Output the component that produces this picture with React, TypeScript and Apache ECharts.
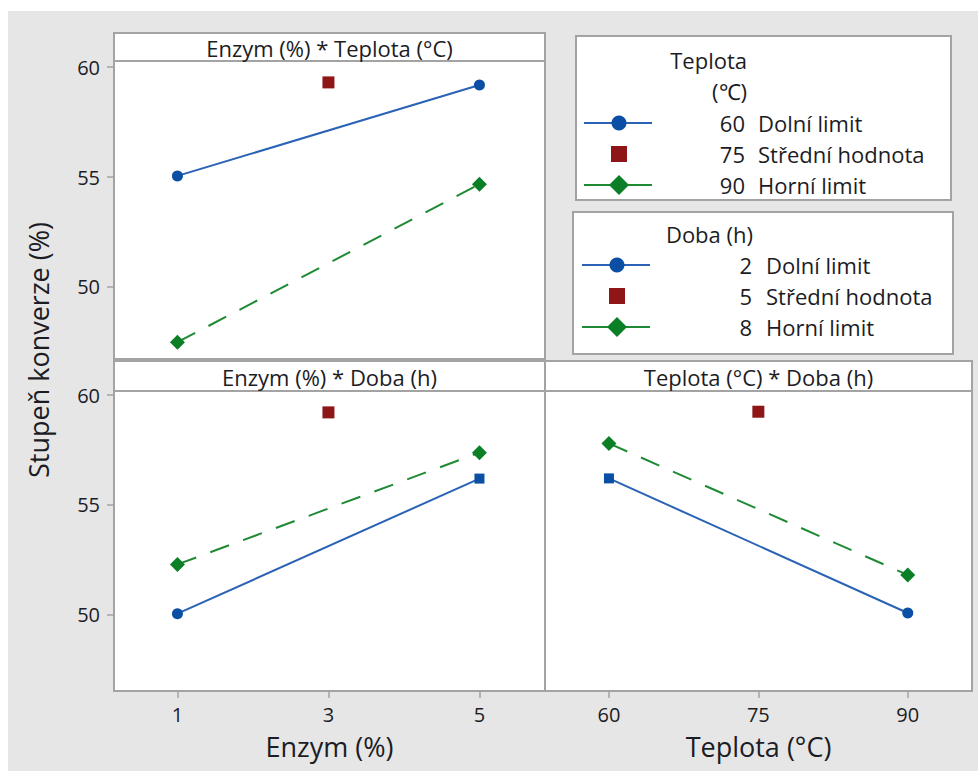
import React, { useEffect, useRef } from "react";
import * as echarts from "echarts";

// ---- data ----
const enzymTicks = [1, 3, 5];
const teplotaTicks = [60, 75, 90];
const yTicks = [50, 55, 60];

// Panel 1: Enzym (%) * Teplota (°C)
const et60: number[][] = [[1, 55.05], [5, 59.18]];
const et75: number[][] = [[3, 59.3]];
const et90: number[][] = [[1, 47.49], [5, 54.67]];
// Panel 2: Enzym (%) * Doba (h)
const ed2: number[][] = [[1, 50.06], [5, 56.2]];
const ed5: number[][] = [[3, 59.21]];
const ed8: number[][] = [[1, 52.3], [5, 57.38]];
// Panel 3: Teplota (°C) * Doba (h)
const td2: number[][] = [[60, 56.21], [90, 50.09]];
const td5: number[][] = [[75, 59.24]];
const td8: number[][] = [[60, 57.8], [90, 51.82]];

const panelTitles = ["Enzym (%) * Teplota (°C)", "Enzym (%) * Doba (h)", "Teplota (°C) * Doba (h)"];
const yTitle = "Stupeň konverze (%)";
const xTitles = ["Enzym (%)", "Teplota (°C)"];
const legendTitles1 = ["Teplota", "(℃)"];
const legendTitle2 = "Doba (h)";
const legendTeplotaValues = ["60", "75", "90"];
const legendDobaValues = ["2", "5", "8"];
const legendLevels = ["Dolní limit", "Střední hodnota", "Horní limit"];

// ---- styles ----
const FONT = "Open Sans";
const TXT = "#1c1c24";
const FRAME = "#a3a3a3";
const BLUE_L = "#2a62b5";
const BLUE_M = "#0a4fa3";
const RED = "#8e1616";
const GREEN_L = "#1f8a34";
const GREEN_M = "#0b7f26";

export default function App() {
  const ref = useRef<HTMLDivElement>(null);
  useEffect(() => {
    if (!ref.current) return;
    const chart = echarts.init(ref.current, undefined, { renderer: "svg" });

    const grids = [
      { left: 114, top: 61, width: 431, height: 298 },
      { left: 114, top: 391, width: 431, height: 300 },
      { left: 545, top: 391, width: 427, height: 300 },
    ].map((g) => ({ ...g, show: true, backgroundColor: "#fff", borderColor: FRAME, borderWidth: 2, containLabel: false }));

    const xCommon = (showLabels: boolean) => ({
      type: "value" as const,
      axisLine: { show: false },
      splitLine: { show: false },
      axisTick: { show: showLabels, length: 7, lineStyle: { color: FRAME, width: 1.5 } },
      axisLabel: { show: showLabels, fontFamily: FONT, fontSize: 20, color: TXT, margin: 13 },
    });

    const xAxes = [
      { ...xCommon(false), gridIndex: 0, min: 0.16, max: 5.868 },
      {
        ...xCommon(true), gridIndex: 1, min: 0.16, max: 5.868,
        axisTick: { show: true, length: 7, lineStyle: { color: FRAME, width: 1.5 }, customValues: enzymTicks },
        axisLabel: { fontFamily: FONT, fontSize: 20, color: TXT, margin: 13, customValues: enzymTicks },
        name: xTitles[0], nameLocation: "middle", nameGap: 42,
        nameTextStyle: { fontFamily: FONT, fontSize: 27, color: TXT },
      },
      {
        ...xCommon(true), gridIndex: 2, min: 53.58, max: 96.45,
        axisTick: { show: true, length: 7, lineStyle: { color: FRAME, width: 1.5 }, customValues: teplotaTicks },
        axisLabel: { fontFamily: FONT, fontSize: 20, color: TXT, margin: 13, customValues: teplotaTicks },
        name: xTitles[1], nameLocation: "middle", nameGap: 42,
        nameTextStyle: { fontFamily: FONT, fontSize: 27, color: TXT },
      },
    ];

    const yCommon = (show: boolean) => ({
      type: "value" as const,
      axisLine: { show: false },
      splitLine: { show: false },
      axisTick: { show, length: 7, lineStyle: { color: FRAME, width: 1.5 }, customValues: yTicks },
      axisLabel: { show, fontFamily: FONT, fontSize: 20, color: TXT, margin: 14, customValues: yTicks },
    });
    const yAxes = [
      { ...yCommon(true), gridIndex: 0, min: 46.727, max: 60.273 },
      { ...yCommon(true), gridIndex: 1, min: 46.545, max: 60.182 },
      { ...yCommon(false), gridIndex: 2, min: 46.545, max: 60.182 },
    ];

    const blueLine = (data: number[][], idx: number, squareAt: number) => ({
      type: "line" as const, xAxisIndex: idx, yAxisIndex: idx, data,
      symbol: (_v: any, p: any) => (p.dataIndex === squareAt ? "rect" : "circle"),
      symbolSize: (_v: any, p: any) => (p.dataIndex === squareAt ? 10 : 11),
      lineStyle: { color: BLUE_L, width: 2 },
      itemStyle: { color: BLUE_M, opacity: 1 },
      z: 3,
    });
    const greenLine = (data: number[][], idx: number) => ({
      type: "line" as const, xAxisIndex: idx, yAxisIndex: idx, data,
      symbol: "diamond", symbolSize: 15,
      lineStyle: { color: GREEN_L, width: 2, type: [20, 15] as any },
      itemStyle: { color: GREEN_M, opacity: 1 },
      z: 3,
    });
    const redPoint = (data: number[][], idx: number) => ({
      type: "scatter" as const, xAxisIndex: idx, yAxisIndex: idx, data,
      symbol: "rect", symbolSize: 12,
      itemStyle: { color: RED, opacity: 1 },
      z: 3,
    });

    const series = [
      blueLine(et60, 0, -1), redPoint(et75, 0), greenLine(et90, 0),
      blueLine(ed2, 1, 1), redPoint(ed5, 1), greenLine(ed8, 1),
      blueLine(td2, 2, 0), redPoint(td5, 2), greenLine(td8, 2),
    ];

    // ---- graphics: strips, legends, titles ----
    const strips = [
      { x: 114, y: 33, w: 431, h: 28 },
      { x: 114, y: 361, w: 431, h: 30 },
      { x: 545, y: 361, w: 427, h: 30 },
    ];
    const graphic: any[] = [
      { type: "rect", shape: { x: 0, y: 0, width: 978, height: 11 }, style: { fill: "#fff" }, silent: true },
      { type: "rect", shape: { x: 0, y: 0, width: 8, height: 771 }, style: { fill: "#fff" }, silent: true },
    ];
    strips.forEach((s, i) => {
      graphic.push({ type: "rect", shape: { x: s.x, y: s.y, width: s.w, height: s.h }, style: { fill: "#fff", stroke: FRAME, lineWidth: 2 } });
      graphic.push({
        type: "text", x: s.x + s.w / 2, y: s.y + s.h / 2 + 1,
        style: { text: panelTitles[i], fontFamily: FONT, fontSize: 22, fill: TXT, align: "center", verticalAlign: "middle" },
      });
    });
    graphic.push({
      type: "text", x: 38, y: 350, rotation: Math.PI / 2,
      style: { text: yTitle, fontFamily: FONT, fontSize: 27, fill: TXT, align: "center", verticalAlign: "middle" },
    });

    const legendSym = (kind: number, cx: number, cy: number) => {
      const out: any[] = [];
      if (kind === 0 || kind === 2) {
        out.push({ type: "line", shape: { x1: cx - 35, y1: cy, x2: cx + 33, y2: cy }, style: { stroke: kind === 0 ? BLUE_L : GREEN_L, lineWidth: 2 } });
      }
      if (kind === 0) out.push({ type: "circle", shape: { cx, cy, r: 7.5 }, style: { fill: BLUE_M } });
      if (kind === 1) out.push({ type: "rect", shape: { x: cx - 8, y: cy - 8, width: 16, height: 16 }, style: { fill: RED } });
      if (kind === 2) out.push({ type: "polygon", shape: { points: [[cx, cy - 10], [cx + 10, cy], [cx, cy + 10], [cx - 10, cy]] }, style: { fill: GREEN_M } });
      return out;
    };
    const LF = 22;
    // legend 1
    graphic.push({ type: "rect", shape: { x: 576, y: 36, width: 375, height: 164 }, style: { fill: "#fff", stroke: FRAME, lineWidth: 2 } });
    graphic.push({ type: "text", x: 747, y: 60, style: { text: legendTitles1[0], fontFamily: FONT, fontSize: LF, fill: TXT, align: "right", verticalAlign: "middle" } });
    graphic.push({ type: "text", x: 747, y: 91, style: { text: legendTitles1[1], fontFamily: FONT, fontSize: LF, fill: TXT, align: "right", verticalAlign: "middle" } });
    [123, 154, 185].forEach((yy, i) => {
      graphic.push(...legendSym(i, 619, yy));
      graphic.push({ type: "text", x: 745, y: yy, style: { text: legendTeplotaValues[i], fontFamily: FONT, fontSize: LF, fill: TXT, align: "right", verticalAlign: "middle" } });
      graphic.push({ type: "text", x: 758, y: yy, style: { text: legendLevels[i], fontFamily: FONT, fontSize: LF, fill: TXT, align: "left", verticalAlign: "middle" } });
    });
    // legend 2
    graphic.push({ type: "rect", shape: { x: 573, y: 212, width: 380, height: 142 }, style: { fill: "#fff", stroke: FRAME, lineWidth: 2 } });
    graphic.push({ type: "text", x: 753, y: 234, style: { text: legendTitle2, fontFamily: FONT, fontSize: LF, fill: TXT, align: "right", verticalAlign: "middle" } });
    [265, 296, 327].forEach((yy, i) => {
      graphic.push(...legendSym(i, 617, yy));
      graphic.push({ type: "text", x: 752, y: yy, style: { text: legendDobaValues[i], fontFamily: FONT, fontSize: LF, fill: TXT, align: "right", verticalAlign: "middle" } });
      graphic.push({ type: "text", x: 766, y: yy, style: { text: legendLevels[i], fontFamily: FONT, fontSize: LF, fill: TXT, align: "left", verticalAlign: "middle" } });
    });

    chart.setOption({
      animation: false,
      backgroundColor: "#e6e6e6",
      textStyle: { fontFamily: FONT },
      grid: grids,
      xAxis: xAxes,
      yAxis: yAxes,
      series,
      graphic,
    });
    return () => chart.dispose();
  }, []);

  return <div ref={ref} style={{ position: "absolute", left: 0, top: 0, width: 978, height: 771 }} />;
}
